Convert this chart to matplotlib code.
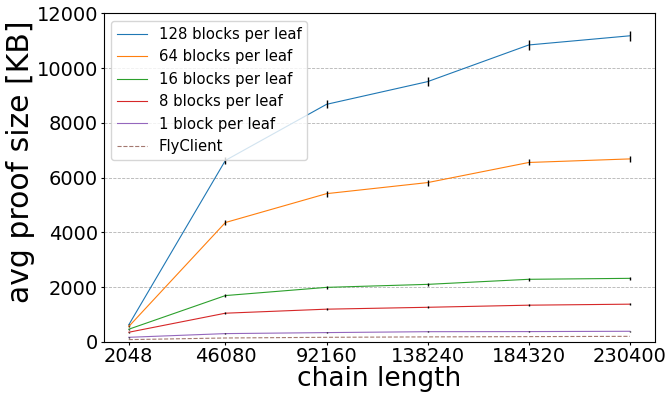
import numpy as np
import matplotlib

matplotlib.use('agg')
import matplotlib.pyplot as plt

chain_length = [2048, 46080, 92160, 138240, 184320, 230400]

# avg proof size [KB] and error (std) per leaf size
size_128 = [620, 6630, 8680, 9510, 10850, 11185]
err_128 = [40, 130, 150, 165, 180, 190]
size_64 = [560, 4360, 5415, 5820, 6555, 6685]
err_64 = [30, 100, 110, 110, 110, 110]
size_16 = [460, 1690, 1990, 2100, 2285, 2320]
err_16 = [20, 40, 50, 60, 50, 50]
size_8 = [350, 1046, 1193, 1262, 1339, 1376]
err_8 = [15, 30, 30, 30, 30, 30]
size_1 = [165, 300, 337, 370, 374, 385]
err_1 = [10, 10, 10, 10, 10, 10]
flyclient = [80, 140, 165, 180, 190, 200]

labels = ['128 blocks per leaf', '64 blocks per leaf', '16 blocks per leaf',
          '8 blocks per leaf', '1 block per leaf']

fig = plt.figure(figsize=(6.69, 3.97), dpi=100)
ax = fig.add_subplot(111)
fig.subplots_adjust(left=0.155, right=0.979, top=0.966, bottom=0.139)

series = [(size_128, err_128), (size_64, err_64), (size_16, err_16),
          (size_8, err_8), (size_1, err_1)]
for i, (vals, errs) in enumerate(series):
    ax.plot(chain_length, vals, color='C%d' % i, linewidth=0.8, label=labels[i])
    ax.errorbar(chain_length, vals, yerr=errs, fmt='none', ecolor='black',
                elinewidth=1, capsize=0)
ax.plot(chain_length, flyclient, color='C5', linestyle='--', linewidth=0.8,
        alpha=0.8, label='FlyClient')

ax.set_ylim(0, 12000)
ax.set_xticks(chain_length)
ax.tick_params(labelsize=14, length=2.5, pad=1.5)
ax.set_xlabel('chain length', fontsize=19, labelpad=0)
ax.set_ylabel('avg proof size [KB]', fontsize=21.5)
ax.yaxis.set_label_coords(-0.125, 0.549)
ax.yaxis.grid(True, linestyle='--', color='gray', alpha=0.6, linewidth=0.6)
ax.legend(loc='upper left', fontsize=10.7)

fig.savefig('out.png', dpi=100)
